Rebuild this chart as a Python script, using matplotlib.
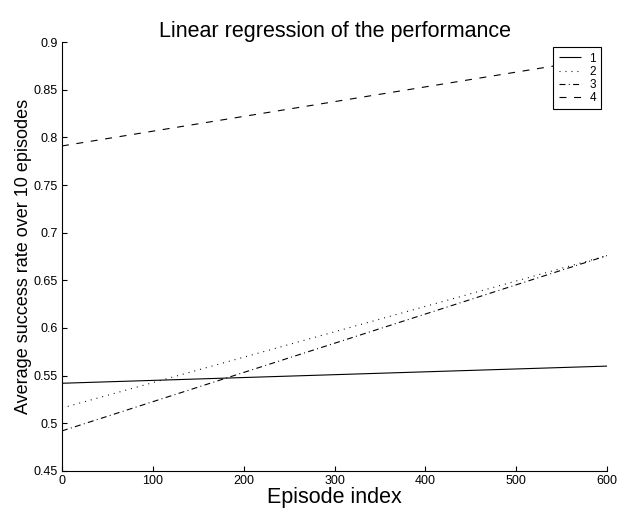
import numpy as np
import matplotlib
matplotlib.use('Agg')
import matplotlib.pyplot as plt

plt.rcParams['font.family'] = ['Liberation Sans', 'DejaVu Sans']
plt.rcParams['lines.scale_dashes'] = False

# linear regression end points (episode index -> success rate)
episodes = [0, 600]
labels = ['1', '2', '3', '4']
start_vals = [0.542, 0.516, 0.492, 0.791]
end_vals = [0.560, 0.676, 0.676, 0.884]
# matlab-like line styles (in points)
styles = [(0, ()), (0, (0.7, 3.6)), (0, (4.3, 2.4, 0.7, 2.4)), (0, (5.0, 5.5))]

fig = plt.figure(figsize=(6.26, 5.13), dpi=100)
ax = fig.add_axes([0.099, 0.082, 0.871, 0.836])

for lab, a, b, ls in zip(labels, start_vals, end_vals, styles):
    ax.plot(episodes, [a, b], color='black', linestyle=ls, linewidth=0.8, label=lab)

ax.set_xlim(0, 600)
ax.set_ylim(0.45, 0.9)
ax.set_xticks(np.arange(0, 601, 100))
ax.set_yticks(np.arange(0.45, 0.901, 0.05))
ax.set_yticklabels(['0.45', '0.5', '0.55', '0.6', '0.65', '0.7', '0.75', '0.8', '0.85', '0.9'])
ax.tick_params(direction='in', length=3.6, width=0.8, labelsize=9, pad=3)
ax.spines['top'].set_visible(False)
ax.spines['right'].set_visible(False)
for s in ['left', 'bottom']:
    ax.spines[s].set_linewidth(0.8)

ax.set_title('Linear regression of the performance', fontsize=15.5, pad=4)
ax.set_xlabel('Episode index', fontsize=15.5, labelpad=0)
ax.set_ylabel('Average success rate over 10 episodes', fontsize=13, labelpad=1)

leg = ax.legend(loc='upper right', bbox_to_anchor=(0.989, 0.988), borderaxespad=0,
                fontsize=8.5, fancybox=False, edgecolor='black', framealpha=1,
                handlelength=1.9, borderpad=0.45, labelspacing=0.1, handletextpad=0.7)
leg.get_frame().set_linewidth(0.8)

fig.savefig('out.png', dpi=100)
